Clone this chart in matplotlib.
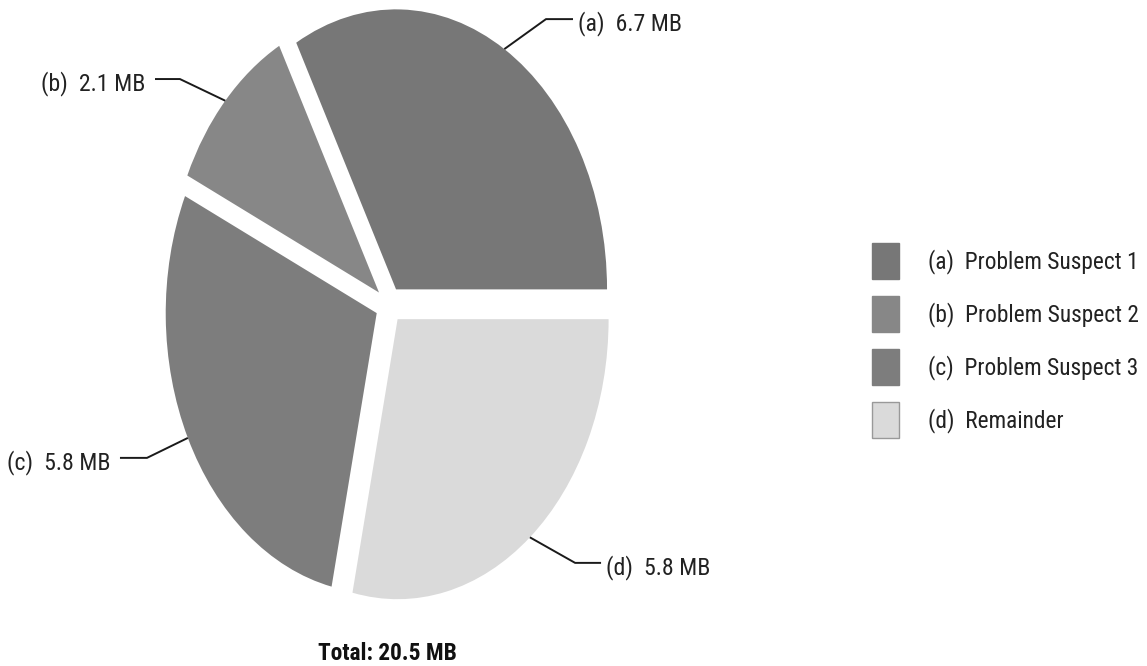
import matplotlib
matplotlib.use("Agg")
import matplotlib.pyplot as plt
from matplotlib import font_manager
from matplotlib.patches import Patch
import numpy as np

# ---- data -------------------------------------------------------------
letters = ["a", "b", "c", "d"]
names = ["Problem Suspect 1", "Problem Suspect 2", "Problem Suspect 3", "Remainder"]
sizes_mb = [6.7, 2.1, 5.8, 5.8]
total_label = "Total: 20.5 MB"

colors = ["#777777", "#878787", "#7d7d7d", "#dadada"]

# ---- fonts: a narrow grotesque if one is installed ---------------------
available = {f.name for f in font_manager.fontManager.ttflist}
family = "Liberation Sans"
for cand in ["Liberation Sans Narrow", "Arial Narrow", "Roboto Condensed",
             "Archivo Narrow", "Liberation Sans"]:
    if cand in available:
        family = cand
        break
plt.rcParams["font.family"] = [family, "DejaVu Sans"]
narrow = family != "Liberation Sans"
lab_fs = 17.2 if narrow else 14.5
leg_fs = 16.8 if narrow else 14.5
tot_fs = 16.8 if narrow else 14

W, H = 1147, 666
fig = plt.figure(figsize=(W / 100, H / 100), dpi=100)
fig.patch.set_facecolor("white")

# pie axes: unit radius maps to an ellipse (rx, ry in pixels)
cx_px, cy_px, rx_px, ry_px = 389, 305, 211, 280
ax_w_px = 760
ax = fig.add_axes([0, 0, ax_w_px / W, 1])

explode = [0.065] * len(sizes_mb)
wedges, _ = ax.pie(sizes_mb, colors=colors, startangle=0, counterclock=True,
                   explode=explode, radius=1.0,
                   wedgeprops=dict(linewidth=0, antialiased=True))
ax.set_aspect("auto")
ax.set_xlim((0 - cx_px) / rx_px, (ax_w_px - cx_px) / rx_px)
ax.set_ylim((cy_px - H) / ry_px, cy_px / ry_px)
ax.axis("off")

# leader-line elbows and ends (pie units)
elbows = [(0.744, 1.021), (-0.991, 0.807), (-1.147, -0.546), (0.882, -0.921)]
ends = [(0.872, 1.021), (-1.109, 0.807), (-1.275, -0.546), (1.005, -0.921)]
text_drop = 4.5 / ry_px

for w, letter, val, el, en in zip(wedges, letters, sizes_mb, elbows, ends):
    mid = np.deg2rad((w.theta1 + w.theta2) / 2)
    cxw, cyw = w.center
    rim = (cxw + w.r * np.cos(mid), cyw + w.r * np.sin(mid))
    ax.plot([rim[0], el[0], en[0]], [rim[1], el[1], en[1]],
            color="#1a1a1a", lw=1.4, solid_capstyle="butt", clip_on=False)
    right = en[0] > 0
    ax.text(en[0] + (0.025 if right else -0.045), en[1] - text_drop,
            f"({letter})  {val} MB", ha="left" if right else "right",
            va="center", fontsize=lab_fs, color="#222222", clip_on=False)

ax.text((387 - cx_px) / rx_px, (cy_px - 653) / ry_px, total_label,
        ha="center", va="center", fontsize=tot_fs, fontweight="bold",
        color="#111111")

# legend: 27x36 px swatches, 53 px row pitch
handles = [Patch(facecolor=c, edgecolor=("#999999" if i == 3 else c), linewidth=1)
           for i, c in enumerate(colors)]
labels = [f"({l})  {n}" for l, n in zip(letters, names)]
fs_px = leg_fs * 100 / 72
sw_w, sw_h, pitch = 27, 36, 53
hh = (sw_h / fs_px - 0.245) / 0.65
leg = fig.legend(handles, labels, loc="upper left",
                 bbox_to_anchor=(872 / W, 1 - 243 / H),
                 frameon=False, fontsize=leg_fs, borderpad=0, borderaxespad=0,
                 handlelength=sw_w / fs_px, handleheight=hh,
                 handletextpad=29 / fs_px, labelspacing=(pitch - sw_h) / fs_px)
for t in leg.get_texts():
    t.set_color("#222222")

fig.savefig("out.png", dpi=100, facecolor="white")
